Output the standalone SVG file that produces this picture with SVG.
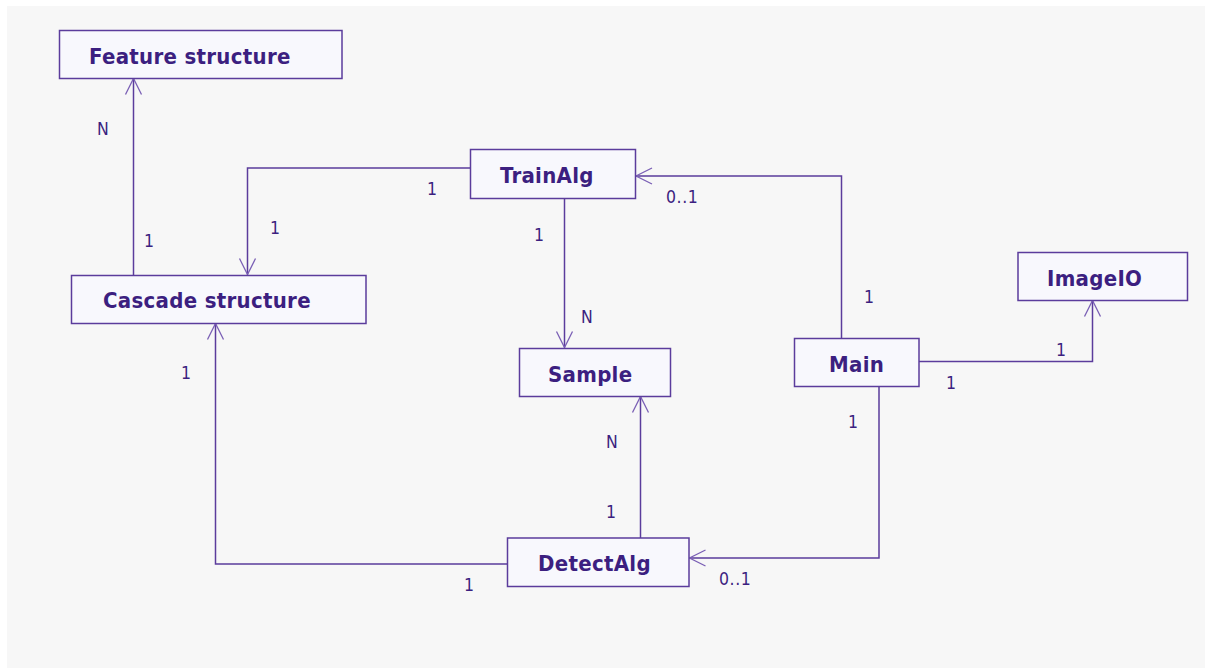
<svg xmlns="http://www.w3.org/2000/svg" width="1207" height="670" viewBox="0 0 1207 670">
  <style>
    .box { fill: #f8f8fd; stroke: #5b3c9c; stroke-width: 1.5; }
    .name { font-family: "DejaVu Sans Condensed", "DejaVu Sans", Verdana, sans-serif; font-stretch: condensed; font-weight: bold; font-size: 22px; letter-spacing: 0.3px; fill: #3c1f80; }
    .mult { font-family: "DejaVu Sans Condensed", "DejaVu Sans", Verdana, sans-serif; font-stretch: condensed; font-size: 17.5px; letter-spacing: 0.6px; fill: #3c1f80; }
    .link { fill: none; stroke: #5b3c9c; stroke-width: 1.5; marker-end: url(#open); }
  </style>
  <defs>
    <marker id="open" markerUnits="userSpaceOnUse" markerWidth="20" markerHeight="20" viewBox="-18 -10 20 20" refX="0" refY="0" orient="auto">
      <path d="M-16,-8 L0,0 L-16,8" fill="none" stroke="#7a5fb5" stroke-width="1.3"/>
    </marker>
  </defs>

  <rect x="0" y="0" width="1207" height="670" fill="#ffffff"/>
  <rect x="7" y="6" width="1198" height="662" fill="#f7f7f7"/>

  <!-- associations -->
  <g id="connectors">
    <path class="link" d="M133.5,275 V78.5"/>
    <path class="link" d="M470,168 H247.5 V274.5"/>
    <path class="link" d="M564.5,198 V347.5"/>
    <path class="link" d="M841.5,338 V176 H636"/>
    <path class="link" d="M919,361.5 H1092.5 V300.5"/>
    <path class="link" d="M879,387 V558 H689.5"/>
    <path class="link" d="M640.5,538 V396.5"/>
    <path class="link" d="M507,564 H215.5 V323.5"/>

    <text class="mult" x="97" y="135">N</text>
    <text class="mult" x="144" y="247">1</text>
    <text class="mult" x="427" y="195">1</text>
    <text class="mult" x="270" y="234">1</text>
    <text class="mult" x="534" y="241">1</text>
    <text class="mult" x="581" y="323">N</text>
    <text class="mult" x="666" y="203">0..1</text>
    <text class="mult" x="864" y="303">1</text>
    <text class="mult" x="1056" y="356">1</text>
    <text class="mult" x="946" y="389">1</text>
    <text class="mult" x="848" y="428">1</text>
    <text class="mult" x="181" y="379">1</text>
    <text class="mult" x="606" y="448">N</text>
    <text class="mult" x="606" y="518">1</text>
    <text class="mult" x="464" y="591">1</text>
    <text class="mult" x="719" y="585">0..1</text>
  </g>

  <g id="feature-structure">
    <rect class="box" x="59.5" y="30.5" width="282.5" height="48"/>
    <text class="name" x="89" y="64">Feature structure</text>
  </g>
  <g id="cascade-structure">
    <rect class="box" x="71.5" y="275.5" width="294.5" height="48"/>
    <text class="name" x="103" y="308">Cascade structure</text>
  </g>
  <g id="train-alg">
    <rect class="box" x="470.5" y="149.5" width="165" height="49"/>
    <text class="name" x="500" y="183">TrainAlg</text>
  </g>
  <g id="sample">
    <rect class="box" x="519.5" y="348.5" width="151" height="48"/>
    <text class="name" x="548" y="382">Sample</text>
  </g>
  <g id="main">
    <rect class="box" x="794.5" y="338.5" width="124.5" height="48"/>
    <text class="name" x="829" y="372">Main</text>
  </g>
  <g id="image-io">
    <rect class="box" x="1018" y="252.5" width="169.5" height="48"/>
    <text class="name" x="1047" y="286">ImageIO</text>
  </g>
  <g id="detect-alg">
    <rect class="box" x="507.5" y="538" width="181.5" height="48.5"/>
    <text class="name" x="538" y="571">DetectAlg</text>
  </g>
</svg>
